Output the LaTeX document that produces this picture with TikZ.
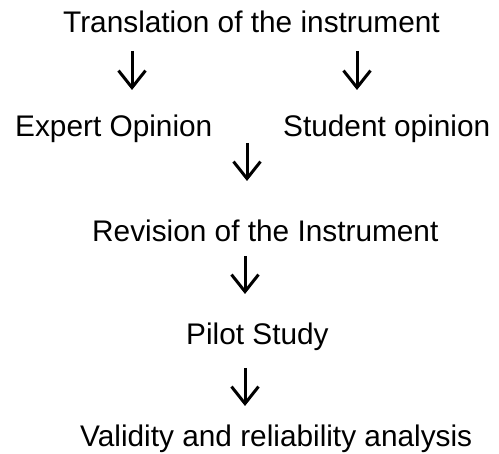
\documentclass[tikz,border=0pt]{standalone}
\usepackage{fontspec}
\setmainfont{Liberation Sans}
\usetikzlibrary{arrows.meta}
\begin{document}
\begin{tikzpicture}[x=1pt,y=-1pt,
  lbl/.style={anchor=base west,inner sep=0pt,font=\fontsize{29.8pt}{36pt}\selectfont},
  flow/.style={line width=3pt,-{Straight Barb[length=17pt,width=27pt,line width=3pt]}}]
\useasboundingbox (0,0) rectangle (499,454);
\node[lbl] (trans) at (63,33) {Translation of the instrument};
\node[lbl] (expert) at (15,137) {Expert Opinion};
\node[lbl] (student) at (283,137) {Student opinion};
\node[lbl] (rev) at (92,242) {Revision of the Instrument};
\node[lbl] (pilot) at (186,345) {Pilot Study};
\node[lbl] (valid) at (80,447) {Validity and reliability analysis};
\coordinate (a1s) at (132,51); \coordinate (a1e) at (132,90);
\coordinate (a2s) at (357,51); \coordinate (a2e) at (357,90);
\coordinate (a3s) at (247,143); \coordinate (a3e) at (247,181);
\coordinate (a4s) at (245,256); \coordinate (a4e) at (245,294);
\coordinate (a5s) at (245,368); \coordinate (a5e) at (245,406);
\draw[flow] (a1s) -- (a1e);
\draw[flow] (a2s) -- (a2e);
\draw[flow] (a3s) -- (a3e);
\draw[flow] (a4s) -- (a4e);
\draw[flow] (a5s) -- (a5e);
\end{tikzpicture}
\end{document}
